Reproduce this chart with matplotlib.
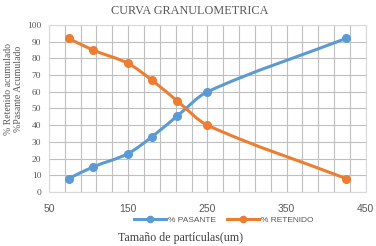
import matplotlib.pyplot as plt
import numpy as np
from matplotlib.path import Path
from matplotlib.patches import PathPatch
from matplotlib.lines import Line2D

tamano = [75, 106, 150, 180, 212, 250, 425]
pasante = [8, 15, 23, 33, 45.5, 60, 92]
retenido = [92, 85, 77, 67, 54.5, 40, 8]

BLUE = "#5B9BD5"
ORANGE = "#ED7D31"
GRID = "#BFBFBF"
TEXT = "#595959"
SERIF = ["Liberation Serif", "DejaVu Serif"]


def smooth_path(x, y):
    # smoothed line like Excel: cubic Bezier, tangent = chord of the neighbours
    x = np.asarray(x, float)
    y = np.asarray(y, float)
    h = np.diff(x)
    m = np.empty_like(y)
    m[0] = (y[1] - y[0]) / h[0]
    m[-1] = (y[-1] - y[-2]) / h[-1]
    m[1:-1] = (y[2:] - y[:-2]) / (x[2:] - x[:-2])
    verts = [(x[0], y[0])]
    codes = [Path.MOVETO]
    for i in range(len(x) - 1):
        verts += [(x[i] + h[i] / 3, y[i] + m[i] * h[i] / 3),
                  (x[i + 1] - h[i] / 3, y[i + 1] - m[i + 1] * h[i] / 3),
                  (x[i + 1], y[i + 1])]
        codes += [Path.CURVE4] * 3
    return Path(verts, codes)


fig = plt.figure(figsize=(3.76, 2.46), dpi=100)
ax = fig.add_axes([0.130, 0.220, 0.843, 0.678])

for yv, col in [(pasante, BLUE), (retenido, ORANGE)]:
    ax.add_patch(PathPatch(smooth_path(tamano, yv), facecolor="none",
                           edgecolor=col, lw=2.2, zorder=3, capstyle="round"))
    ax.plot(tamano, yv, ls="none", marker="o", ms=5.5, color=col, zorder=4)

ax.set_xlim(50, 450)
ax.set_ylim(0, 100)
ax.set_xticks(range(50, 451, 100))
ax.set_xticks(range(50, 451, 20), minor=True)
ax.set_yticks(range(0, 101, 10))
ax.grid(True, which="both", color=GRID, lw=0.8)
ax.set_axisbelow(True)
for s in ax.spines.values():
    s.set_color("#D9D9D9")
    s.set_linewidth(0.8)
ax.tick_params(which="both", length=0, colors=TEXT)
ax.tick_params(axis="x", labelsize=7.5, pad=9)
ax.tick_params(axis="y", labelsize=6.8, pad=5.5)
for lab in ax.get_yticklabels():
    lab.set_family(SERIF)
for lab in ax.get_xticklabels():
    lab.set_family(["Liberation Sans", "DejaVu Sans"])

fig.text(0.505, 0.955, "CURVA GRANULOMETRICA", ha="center", va="center",
         family=SERIF, fontsize=8.8, color=TEXT)
fig.text(0.022, 0.64, "% Retenido acumulado", rotation=90, ha="center",
         va="center", family=SERIF, fontsize=7, color=TEXT)
fig.text(0.048, 0.64, "%Pasante Acumulado", rotation=90, ha="center",
         va="center", family=SERIF, fontsize=7, color=TEXT)
fig.text(0.479, 0.032, "Tamaño de partículas(um)", ha="center", va="center",
         family=SERIF, fontsize=8.6, color="#404040")

handles = [Line2D([], [], color=BLUE, lw=2.2, marker="o", ms=4.5),
           Line2D([], [], color=ORANGE, lw=2.2, marker="o", ms=4.5)]
fig.legend(handles, ["% PASANTE", "% RETENIDO"], loc="center",
           bbox_to_anchor=(0.596, 0.106), ncol=2, frameon=False,
           prop={"family": "Liberation Sans", "size": 6},
           labelcolor=TEXT, handlelength=3.8, columnspacing=1.3,
           handletextpad=0.3)

fig.savefig("out.png", dpi=100)
